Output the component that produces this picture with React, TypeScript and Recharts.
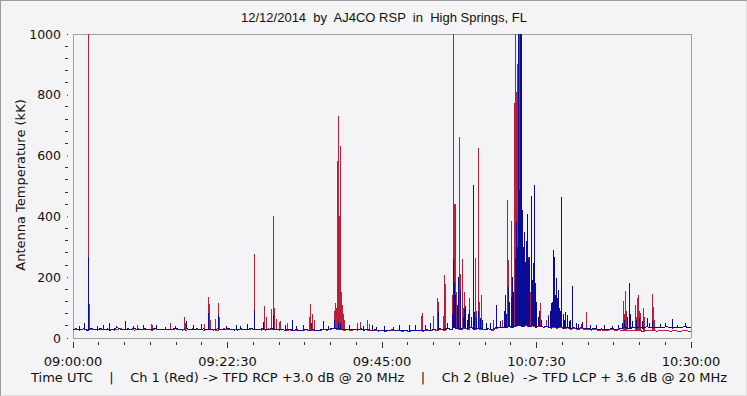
import { LineChart, Line, XAxis, YAxis, CartesianGrid } from 'recharts';

// minutes after 09:00:00 UTC, baseline sampled every 30 s
const BLUE_BASE = [
  28, 31, 27, 30, 26, 32, 29, 27, 31, 28,
  30, 26, 29, 33, 28, 27, 30, 29, 31, 27,
  28, 30, 27, 29, 32, 26, 28, 30, 27, 29,
  31, 28, 26, 30, 29, 27, 31, 28, 30, 27,
  29, 26, 30, 28, 27, 31, 29, 26, 28, 30,
  27, 29, 32, 28, 27, 30, 26, 29, 31, 28,
  28, 27, 26, 29, 25, 27, 24, 26, 28, 25,
  27, 24, 26, 29, 27, 30, 33, 31, 29, 27,
  28, 26, 29, 27, 30, 26, 28, 25, 27, 24,
  26, 23, 25, 27, 24, 26, 23, 25, 22, 26,
  24, 26, 23, 27, 25, 28, 26, 30, 27, 32,
  29, 34, 31, 28, 33, 30, 35, 29, 32, 30,
  28, 31, 27, 33, 34, 36, 35, 38, 36, 40,
  42, 39, 44, 38, 41, 37, 40, 36, 38, 34,
  37, 34, 38, 33, 36, 32, 35, 31, 34, 30,
  32, 29, 31, 28, 30, 27, 29, 31, 28, 30,
  32, 34, 31, 35, 33, 36, 32, 37, 34, 35,
  33, 36, 34, 37, 35, 33, 36, 34, 37, 35,
  34,
];

const RED_BASE = [
  27, 29, 26, 30, 28, 27, 29, 26, 28, 30,
  27, 29, 26, 28, 31, 27, 29, 28, 26, 30,
  27, 29, 28, 26, 30, 27, 28, 29, 26, 28,
  30, 27, 29, 26, 28, 30, 27, 29, 26, 28,
  27, 29, 26, 28, 30, 27, 29, 28, 26, 29,
  28, 26, 30, 27, 29, 26, 28, 30, 27, 29,
  26, 28, 25, 27, 24, 26, 23, 25, 27, 24,
  26, 23, 25, 27, 26, 28, 31, 29, 27, 26,
  27, 25, 28, 26, 29, 27, 26, 24, 26, 23,
  25, 22, 24, 26, 23, 25, 22, 24, 21, 25,
  23, 25, 22, 26, 24, 27, 25, 29, 26, 31,
  28, 33, 30, 27, 32, 29, 34, 28, 31, 29,
  27, 30, 26, 32, 33, 35, 34, 37, 35, 39,
  41, 38, 43, 37, 40, 36, 39, 35, 37, 33,
  35, 32, 36, 30, 34, 29, 32, 28, 31, 27,
  29, 26, 28, 25, 27, 24, 26, 28, 25, 27,
  25, 24, 26, 23, 25, 24, 22, 25, 23, 24,
  22, 24, 23, 25, 22, 24, 23, 22, 24, 23,
  23,
];

// [minutes, kK]
const RED_SPIKES: [number, number][] = [
  [2.23, 1000], [2.35, 112], [9.36, 43], [11.36, 45], [11.6, 42], [14.27, 48],
  [16.21, 70], [16.4, 50], [19.22, 46], [19.76, 136], [19.85, 112], [20.0, 60],
  [20.82, 62], [21.16, 116], [21.3, 70], [26.4, 276], [27.96, 105], [28.15, 70],
  [28.88, 96], [29.17, 270], [29.27, 401], [29.4, 100], [29.66, 61], [30.14, 52],
  [30.29, 55], [31.2, 48], [34.4, 70], [34.66, 112], [34.85, 80], [35.1, 60],
  [38.01, 90], [38.2, 116], [38.35, 100], [38.55, 582], [38.62, 300], [38.69, 730],
  [38.74, 400], [38.78, 240], [38.85, 200], [38.93, 632], [39.0, 220], [39.1, 150],
  [39.2, 110], [39.4, 80], [39.6, 60], [41.4, 50], [41.9, 52], [42.86, 59], [43.2, 45],
  [50.68, 72], [50.92, 81], [52.53, 72], [53.08, 133], [53.2, 120], [53.98, 72],
  [54.07, 207], [54.2, 178], [55.2, 140], [55.38, 1000], [55.45, 300], [55.53, 440],
  [55.65, 200], [55.77, 440], [55.9, 150], [56.25, 662], [56.36, 210], [56.5, 120],
  [56.69, 261], [56.8, 100], [56.98, 152], [57.1, 90], [57.67, 130], [57.8, 80],
  [58.1, 60], [58.58, 262], [58.7, 90], [59.02, 626], [59.12, 421], [59.25, 120],
  [59.56, 141], [59.7, 60], [61.21, 59], [62.6, 60], [62.95, 136], [63.1, 80],
  [63.24, 454], [63.39, 257], [63.5, 120], [63.88, 386], [63.95, 202], [64.1, 150],
  [64.26, 772], [64.4, 600], [64.47, 1000], [64.55, 700], [64.61, 810], [64.75, 900],
  [65.05, 1000], [65.2, 400], [65.45, 300], [65.68, 350], [65.9, 200], [66.26, 328],
  [66.35, 267], [66.6, 150], [66.9, 120], [67.3, 100], [68.05, 114], [68.2, 60],
  [68.98, 59], [69.22, 77], [74.1, 45], [74.71, 85], [74.75, 87], [80.14, 123],
  [80.3, 80], [80.44, 156], [80.6, 90], [81.9, 108], [82.05, 70], [82.19, 130],
  [82.25, 100], [82.33, 141], [82.45, 90], [82.58, 81], [83.05, 100], [83.2, 70],
  [84.36, 145], [84.51, 103], [84.7, 60],
];

const BLUE_SPIKES: [number, number][] = [
  [0.9, 38], [1.65, 48], [2.23, 267], [3.6, 40], [4.4, 42], [5.29, 48], [6.3, 38],
  [7.62, 55], [8.8, 40], [10.3, 44], [12.09, 42], [13.44, 35], [14.9, 40], [16.5, 55],
  [17.6, 42], [18.7, 45], [19.76, 82], [21.16, 76], [22.4, 40], [23.8, 44], [24.4, 38],
  [25.38, 46], [26.4, 92], [27.71, 53], [29.27, 77], [30.9, 42], [31.99, 59], [32.6, 40],
  [33.5, 44], [34.76, 48], [36.45, 57], [37.2, 40], [38.01, 59], [38.6, 54], [38.9, 50],
  [40.2, 44], [42.3, 40], [43.6, 42], [44.23, 37], [45.4, 40], [46.64, 37], [47.52, 43],
  [48.97, 43], [49.91, 43], [51.3, 44], [52.1, 48], [53.3, 87], [54.6, 50],
  [55.2, 80], [55.38, 261], [55.5, 180], [55.6, 120], [55.77, 141], [55.95, 90],
  [56.05, 110], [56.21, 202], [56.5, 158], [56.8, 70], [57.05, 95], [57.23, 105],
  [57.4, 60], [57.55, 80], [57.81, 92], [58.0, 70], [58.29, 502], [58.45, 85],
  [58.8, 70], [59.0, 90], [59.3, 65], [59.6, 60], [60.2, 50], [60.87, 48], [61.7, 108],
  [62.2, 55], [62.8, 90], [63.0, 140], [63.2, 80], [63.49, 169], [63.6, 120],
  [63.88, 136], [64.0, 200], [64.2, 150], [64.4, 260], [64.6, 380], [64.7, 300],
  [64.85, 1000], [64.99, 487], [65.14, 1000], [65.25, 600], [65.34, 1000], [65.5, 420],
  [65.6, 300], [65.78, 350], [65.9, 250], [66.0, 320], [66.16, 407], [66.3, 200],
  [66.4, 260], [66.55, 267], [66.74, 468], [66.8, 257], [66.95, 190], [67.09, 246],
  [67.23, 502], [67.35, 180], [67.42, 158], [67.55, 120], [67.76, 70], [67.9, 90],
  [68.2, 60], [69.3, 70], [69.5, 90], [69.71, 114], [69.8, 120], [69.94, 289],
  [70.09, 267], [70.2, 140], [70.3, 110], [70.44, 196], [70.55, 130], [70.67, 158],
  [70.8, 100], [71.0, 90], [71.17, 465], [71.4, 80], [71.6, 60], [71.75, 87],
  [71.98, 77], [72.3, 55], [72.5, 60], [72.71, 171], [73.3, 50], [73.6, 45],
  [74.17, 54], [75.4, 44], [76.2, 42], [77.37, 43], [78.5, 40], [79.41, 43],
  [80.0, 50], [80.3, 60], [80.8, 70], [81.02, 180], [81.1, 81], [81.2, 80],
  [81.5, 55], [82.1, 60], [82.5, 65], [83.0, 55], [83.63, 65], [84.0, 50], [84.4, 55],
  [85.6, 45], [86.3, 48], [87.27, 63], [88.1, 44], [89.22, 48],
];

const X_TICKS = [0, 3.75, 7.5, 11.25, 15, 18.75, 22.5, 26.25, 30, 33.75, 37.5, 41.25, 45,
  48.75, 52.5, 56.25, 60, 63.75, 67.5, 71.25, 75, 78.75, 82.5, 86.25, 90];
const X_LABELS: Record<string, string> = {
  '0': '09:00:00', '22.5': '09:22:30', '45': '09:45:00', '67.5': '10:07:30', '90': '10:30:00',
};
const Y_TICKS = [0, 40, 80, 120, 160, 200, 240, 280, 320, 360, 400, 440, 480, 520, 560,
  600, 640, 680, 720, 760, 800, 840, 880, 920, 960, 1000];
const GRID_X = [0, 22.5, 45, 67.5, 90];
const GRID_Y = [0, 200, 400, 600, 800, 1000];

const TITLE = '12/12/2014  by  AJ4CO RSP  in  High Springs, FL';
const Y_TITLE = 'Antenna Temperature (kK)';
const CAPTION = 'Time UTC    |    Ch 1 (Red) -> TFD RCP +3.0 dB @ 20 MHz    |    Ch 2 (Blue)  -> TFD LCP + 3.6 dB @ 20 MHz';

const FONT = '"DejaVu Sans", Verdana, sans-serif';

// each spike is drawn as an impulse: up from the nearest baseline sample and back down
function build(base: number[], spikes: [number, number][]) {
  const pts = base.map((v, i) => ({ t: i * 0.5, v, k: -1 }));
  spikes.forEach(([t, v]) => {
    const b = base[Math.round(t / 0.5)];
    pts.push({ t, v: b, k: 0 }, { t, v, k: 1 }, { t, v: b, k: 2 });
  });
  return pts.sort((a, b) => a.t - b.t || a.k - b.k);
}

const redData = build(RED_BASE, RED_SPIKES);
const blueData = build(BLUE_BASE, BLUE_SPIKES);

function XTick(props: any) {
  const { x, y, payload } = props;
  const label = X_LABELS[String(payload.value)];
  return (
    <g>
      <line x1={x} x2={x} y1={y + 4} y2={label ? y + 10 : y + 7} stroke="#333" shapeRendering="crispEdges" />
      {label && (
        <text x={x} y={y + 28} textAnchor="middle" fontFamily={FONT} fontSize={13} fill="#111">
          {label}
        </text>
      )}
    </g>
  );
}

function YTick(props: any) {
  const { x, y, payload } = props;
  const major = payload.value % 200 === 0;
  return (
    <g>
      {major ? (
        <>
          <rect x={x - 6} y={y} width={1} height={1} fill="#333" />
          <text x={x - 12} y={y} dy="0.36em" textAnchor="end" fontFamily={FONT} fontSize={12.5} fill="#111">
            {payload.value}
          </text>
        </>
      ) : (
        <line x1={x - 8} x2={x - 5} y1={y} y2={y} stroke="#333" shapeRendering="crispEdges" />
      )}
    </g>
  );
}

export default function App() {
  return (
    <div
      style={{
        position: 'absolute',
        left: 0,
        top: 0,
        width: 747,
        height: 396,
        boxSizing: 'border-box',
        background: '#f4f4f6',
        borderTop: '1px solid #9c9c9c',
        borderLeft: '1px solid #9c9c9c',
        borderRight: '1px solid #dedede',
        borderBottom: '1px solid #dedede',
        overflow: 'hidden',
      }}
    >
      <div style={{ position: 'absolute', left: -1, top: -1 }}>
        <LineChart width={747} height={396} margin={{ top: 34, right: 56, bottom: 18, left: 13 }}>
          <XAxis xAxisId="g" type="number" dataKey="t" domain={[0, 90]} ticks={GRID_X} hide />
          <YAxis yAxisId="g" type="number" domain={[0, 1000]} ticks={GRID_Y} hide />
          <CartesianGrid xAxisId="g" yAxisId="g" stroke="#a0a0a0" shapeRendering="crispEdges" />
          <XAxis
            type="number"
            dataKey="t"
            domain={[0, 90]}
            ticks={X_TICKS}
            interval={0}
            height={40}
            tickSize={0}
            tickMargin={0}
            axisLine={false}
            tickLine={false}
            tick={<XTick />}
            allowDataOverflow
          />
          <YAxis
            type="number"
            domain={[0, 1000]}
            ticks={Y_TICKS}
            interval={0}
            width={60}
            tickSize={0}
            tickMargin={0}
            axisLine={false}
            tickLine={false}
            tick={<YTick />}
            allowDataOverflow
          />
          <Line
            data={redData}
            dataKey="v"
            type="linear"
            stroke="#b81f38"
            strokeWidth={1}
            dot={false}
            shapeRendering="crispEdges"
            isAnimationActive={false}
          />
          <Line
            data={blueData}
            dataKey="v"
            type="linear"
            stroke="#0b0b98"
            strokeWidth={1}
            dot={false}
            shapeRendering="crispEdges"
            isAnimationActive={false}
          />
        </LineChart>
      </div>
      <div
        style={{
          position: 'absolute',
          left: 0,
          top: 9,
          width: 766,
          textAlign: 'center',
          whiteSpace: 'pre',
          fontFamily: '"Liberation Sans", Arial, sans-serif',
          fontSize: 13,
          color: '#111',
        }}
      >
        {TITLE}
      </div>
      <div
        style={{
          position: 'absolute',
          left: 19,
          top: 184,
          transform: 'translate(-50%, -50%) rotate(-90deg)',
          whiteSpace: 'pre',
          fontFamily: FONT,
          fontSize: 13,
          color: '#111',
        }}
      >
        {Y_TITLE}
      </div>
      <div
        style={{
          position: 'absolute',
          left: 30,
          top: 369,
          whiteSpace: 'pre',
          fontFamily: FONT,
          fontSize: 13,
          color: '#111',
        }}
      >
        {CAPTION}
      </div>
    </div>
  );
}
